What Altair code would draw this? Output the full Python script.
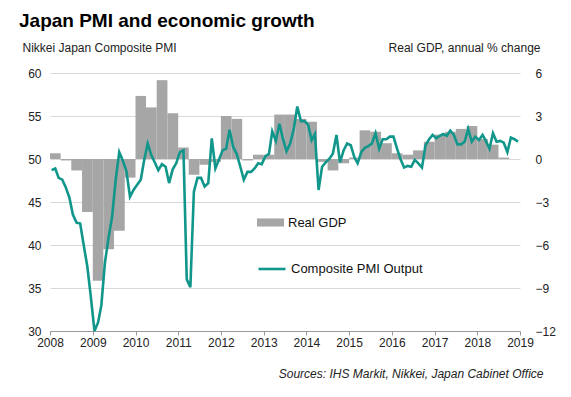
import altair as alt
import pandas as pd

# ---- data ----
years = list(range(2008, 2020))

# Real GDP, annual % change, quarterly 2008Q1 .. 2018Q3
gdp_values = [
    0.4, -0.1, -0.8, -3.7,
    -8.5, -6.3, -5.0, -1.3,
    4.4, 3.6, 5.5, 3.2,
    0.8, -1.1, -0.4, -0.2,
    3.0, 2.8, -0.1, 0.3,
    0.3, 3.1, 3.1, 2.8,
    2.6, -0.2, -0.8, -0.3,
    0.1, 2.0, 1.9, 1.1,
    0.4, 0.3, 0.6, 1.2,
    1.7, 1.9, 2.1, 2.3,
    1.4, 1.0, 0.1,
]

# Nikkei Japan Composite PMI Output, monthly Jan 2008 .. Dec 2018
pmi_values = [
    48.7, 48.9, 47.8, 47.6, 46.7, 45.5, 43.5, 42.6, 42.5, 40.0, 37.5, 34.0,
    30.0, 31.0, 33.0, 38.0, 40.8, 43.3, 47.5, 50.8, 49.8, 48.6, 45.6, 46.4,
    47.0, 47.6, 49.8, 51.8, 50.5, 49.6, 48.7, 49.4, 49.1, 47.2, 48.8, 49.5,
    50.8, 51.0, 36.0, 35.1, 46.2, 47.8, 47.8, 46.8, 47.2, 52.4, 48.9, 49.9,
    51.0, 51.2, 53.4, 51.4, 50.6, 49.1, 47.6, 48.5, 48.5, 48.9, 49.5, 49.4,
    50.3, 50.6, 53.2, 52.1, 54.1, 52.3, 50.9, 51.8, 53.5, 56.1, 54.4, 54.4,
    54.0, 52.2, 52.9, 46.4, 49.1, 49.6, 50.0, 50.6, 52.8, 49.6, 51.0, 51.8,
    51.6, 50.2, 49.5, 50.8, 51.3, 51.5, 51.8, 53.0, 51.2, 52.3, 52.3, 52.6,
    52.6, 51.2, 50.0, 49.0, 49.2, 49.1, 49.9, 49.5, 49.0, 51.6, 52.3, 52.8,
    52.4, 52.7, 52.9, 52.7, 53.3, 52.8, 51.7, 51.7, 52.0, 53.5, 52.0, 52.6,
    52.2, 52.8, 52.1, 51.2, 53.0, 52.0, 52.1, 51.9, 50.8, 52.5, 52.3, 52.0,
]

q_start = pd.date_range("2008-01-01", periods=len(gdp_values), freq="QS")
q_end = pd.date_range("2008-04-01", periods=len(gdp_values), freq="QS")
gdp_df = pd.DataFrame({
    "start": q_start.strftime("%Y-%m-%dT00:00:00"),
    "end": q_end.strftime("%Y-%m-%dT00:00:00"),
    "gdp": gdp_values,
    "series": "Real GDP",
})

months = pd.date_range("2008-01-01", periods=len(pmi_values), freq="MS") + pd.Timedelta(days=14)
pmi_df = pd.DataFrame({
    "date": months.strftime("%Y-%m-%dT00:00:00"),
    "pmi": pmi_values,
    "series": "Composite PMI Output",
})

FONT = "Liberation Sans"
GRAY = "#a6a6a6"
TEAL = "#10968a"

x_scale = alt.Scale(domain=[alt.DateTime(year=2008, month=1, date=1),
                            alt.DateTime(year=2019, month=1, date=1)], nice=False)
x_axis = alt.Axis(
    values=[alt.DateTime(year=y, month=1, date=1) for y in years],
    format="%Y", labelFont=FONT, labelFontSize=12, labelColor="#222",
    domainColor="#9a9a9a", tickColor="#9a9a9a", tickSize=4, grid=False,
    labelPadding=2, labelFlush=False, labelOverlap=False,
    title="Sources: IHS Markit, Nikkei, Japan Cabinet Office",
    titleFont=FONT, titleFontSize=12, titleFontStyle="italic", titleFontWeight="normal",
    titleColor="#222", titleAnchor="end", titleAlign="right", titleBaseline="middle",
    titleX=493, titleY=42,
)

bars = alt.Chart(gdp_df).mark_bar(stroke=None).encode(
    x=alt.X("start:T", scale=x_scale, axis=x_axis),
    x2="end:T",
    y=alt.Y("gdp:Q", scale=alt.Scale(domain=[-12, 6], nice=False, zero=False),
            axis=alt.Axis(orient="right", values=[-12, -9, -6, -3, 0, 3, 6],
                          grid=False, domain=False, ticks=False, labelPadding=15,
                          labelFont=FONT, labelFontSize=12, labelColor="#222",
                          title="Real GDP, annual % change", titleAngle=0,
                          titleFont=FONT, titleFontSize=12, titleFontWeight="normal",
                          titleColor="#222", titleAlign="right", titleBaseline="middle",
                          titleX=20, titleY=-26)),
    y2=alt.datum(0),
    fill=alt.Fill("series:N", scale=alt.Scale(range=[GRAY]),
                  legend=alt.Legend(orient="none", legendX=207, legendY=136, title=None,
                                    symbolType="M-1,-0.3H1V0.3H-1Z", symbolSize=729,
                                    symbolStrokeWidth=0, labelFont=FONT, labelFontSize=13,
                                    labelColor="#111", padding=0, labelOffset=4)),
)

line = alt.Chart(pmi_df).mark_line(strokeWidth=2.6).encode(
    x=alt.X("date:T", scale=x_scale, axis=x_axis),
    y=alt.Y("pmi:Q", scale=alt.Scale(domain=[30, 60], nice=False, zero=False),
            axis=alt.Axis(orient="left", values=[30, 35, 40, 45, 50, 55, 60],
                          grid=True, gridColor="#d9d9d9", gridWidth=1,
                          domain=False, ticks=False, labelPadding=9,
                          labelFont=FONT, labelFontSize=12, labelColor="#222",
                          title="Nikkei Japan Composite PMI", titleAngle=0,
                          titleFont=FONT, titleFontSize=12, titleFontWeight="normal",
                          titleColor="#222", titleAlign="left", titleBaseline="middle",
                          titleX=-28, titleY=-26)),
    stroke=alt.Stroke("series:N", scale=alt.Scale(range=[TEAL]),
                      legend=alt.Legend(orient="none", legendX=207, legendY=181, title=None,
                                        symbolType="stroke", symbolSize=729,
                                        symbolStrokeWidth=2.6, labelFont=FONT,
                                        labelFontSize=13, labelColor="#111", padding=0,
                                        labelOffset=4)),
)

chart = alt.layer(bars, line).resolve_scale(
    y="independent", fill="independent", stroke="independent"
).properties(
    width=470, height=258,
    autosize=alt.AutoSizeParams(type="none"),
    padding={"left": 42, "top": 65, "right": 43, "bottom": 58},
    title=alt.TitleParams("Japan PMI and economic growth", anchor="start", font=FONT,
                          fontSize=19, fontWeight="bold", color="#000", dx=-3, dy=-6),
).configure_view(stroke=None)

chart.save("out.html", embed_options={"renderer": "svg", "actions": False})
